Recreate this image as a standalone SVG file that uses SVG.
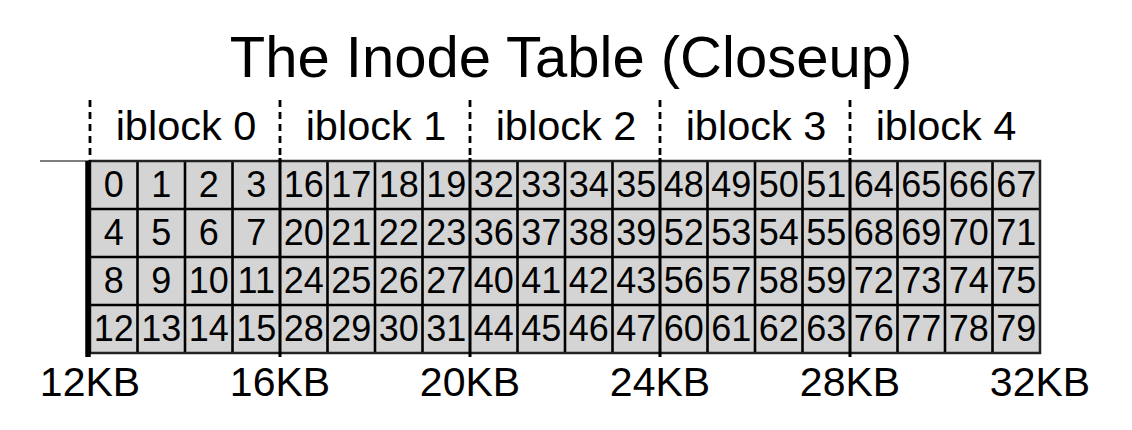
<svg xmlns="http://www.w3.org/2000/svg" width="1132" height="430" viewBox="0 0 1132 430">
  <style>
    text { font-family: "Liberation Sans", Arial, sans-serif; fill: #000; }
    .title { font-size: 58px; text-anchor: middle; }
    .blk { font-size: 41.5px; text-anchor: middle; }
    .kb { font-size: 41px; text-anchor: middle; }
    .num { font-size: 36px; text-anchor: middle; }
    .grid { stroke: #000; stroke-width: 2.6; fill: none; }
    .div { stroke: #000; stroke-width: 3; fill: none; }
    .dash { stroke: #000; stroke-width: 2.8; stroke-dasharray: 7 5; fill: none; }
  </style>

  <text class="title" x="571" y="77">The Inode Table (Closeup)</text>

  <!-- iblock headings -->
  <text class="blk" x="186" y="140">iblock 0</text>
  <text class="blk" x="376" y="140">iblock 1</text>
  <text class="blk" x="566" y="140">iblock 2</text>
  <text class="blk" x="756" y="140">iblock 3</text>
  <text class="blk" x="946" y="140">iblock 4</text>

  <!-- table background (20 columns x 4 rows, 47.5 x 48) -->
  <g id="cells">
    <rect x="90" y="161" width="950" height="192" fill="#d4d4d4"/>
  </g>

  <!-- inode numbers per iblock -->
  <g id="iblock-0">
    <text class="num" x="113.75" y="197">0</text><text class="num" x="161.25" y="197">1</text><text class="num" x="208.75" y="197">2</text><text class="num" x="256.25" y="197">3</text>
    <text class="num" x="113.75" y="245">4</text><text class="num" x="161.25" y="245">5</text><text class="num" x="208.75" y="245">6</text><text class="num" x="256.25" y="245">7</text>
    <text class="num" x="113.75" y="293">8</text><text class="num" x="161.25" y="293">9</text><text class="num" x="208.75" y="293">10</text><text class="num" x="256.25" y="293">11</text>
    <text class="num" x="113.75" y="341">12</text><text class="num" x="161.25" y="341">13</text><text class="num" x="208.75" y="341">14</text><text class="num" x="256.25" y="341">15</text>
  </g>
  <g id="iblock-1">
    <text class="num" x="303.75" y="197">16</text><text class="num" x="351.25" y="197">17</text><text class="num" x="398.75" y="197">18</text><text class="num" x="446.25" y="197">19</text>
    <text class="num" x="303.75" y="245">20</text><text class="num" x="351.25" y="245">21</text><text class="num" x="398.75" y="245">22</text><text class="num" x="446.25" y="245">23</text>
    <text class="num" x="303.75" y="293">24</text><text class="num" x="351.25" y="293">25</text><text class="num" x="398.75" y="293">26</text><text class="num" x="446.25" y="293">27</text>
    <text class="num" x="303.75" y="341">28</text><text class="num" x="351.25" y="341">29</text><text class="num" x="398.75" y="341">30</text><text class="num" x="446.25" y="341">31</text>
  </g>
  <g id="iblock-2">
    <text class="num" x="493.75" y="197">32</text><text class="num" x="541.25" y="197">33</text><text class="num" x="588.75" y="197">34</text><text class="num" x="636.25" y="197">35</text>
    <text class="num" x="493.75" y="245">36</text><text class="num" x="541.25" y="245">37</text><text class="num" x="588.75" y="245">38</text><text class="num" x="636.25" y="245">39</text>
    <text class="num" x="493.75" y="293">40</text><text class="num" x="541.25" y="293">41</text><text class="num" x="588.75" y="293">42</text><text class="num" x="636.25" y="293">43</text>
    <text class="num" x="493.75" y="341">44</text><text class="num" x="541.25" y="341">45</text><text class="num" x="588.75" y="341">46</text><text class="num" x="636.25" y="341">47</text>
  </g>
  <g id="iblock-3">
    <text class="num" x="683.75" y="197">48</text><text class="num" x="731.25" y="197">49</text><text class="num" x="778.75" y="197">50</text><text class="num" x="826.25" y="197">51</text>
    <text class="num" x="683.75" y="245">52</text><text class="num" x="731.25" y="245">53</text><text class="num" x="778.75" y="245">54</text><text class="num" x="826.25" y="245">55</text>
    <text class="num" x="683.75" y="293">56</text><text class="num" x="731.25" y="293">57</text><text class="num" x="778.75" y="293">58</text><text class="num" x="826.25" y="293">59</text>
    <text class="num" x="683.75" y="341">60</text><text class="num" x="731.25" y="341">61</text><text class="num" x="778.75" y="341">62</text><text class="num" x="826.25" y="341">63</text>
  </g>
  <g id="iblock-4">
    <text class="num" x="873.75" y="197">64</text><text class="num" x="921.25" y="197">65</text><text class="num" x="968.75" y="197">66</text><text class="num" x="1016.25" y="197">67</text>
    <text class="num" x="873.75" y="245">68</text><text class="num" x="921.25" y="245">69</text><text class="num" x="968.75" y="245">70</text><text class="num" x="1016.25" y="245">71</text>
    <text class="num" x="873.75" y="293">72</text><text class="num" x="921.25" y="293">73</text><text class="num" x="968.75" y="293">74</text><text class="num" x="1016.25" y="293">75</text>
    <text class="num" x="873.75" y="341">76</text><text class="num" x="921.25" y="341">77</text><text class="num" x="968.75" y="341">78</text><text class="num" x="1016.25" y="341">79</text>
  </g>

  <!-- grid lines -->
  <g id="connectors">
    <path class="grid" d="M90 209H1040M90 257H1040M90 305H1040"/>
    <path class="grid" d="M137.5 161V353M185 161V353M232.5 161V353
                          M327.5 161V353M375 161V353M422.5 161V353
                          M517.5 161V353M565 161V353M612.5 161V353
                          M707.5 161V353M755 161V353M802.5 161V353
                          M897.5 161V353M945 161V353M992.5 161V353"/>
    <rect x="90" y="161" width="950" height="192" fill="none" stroke="#222" stroke-width="2.5"/>
    <!-- iblock boundaries: dashed above, solid through the table -->
    <path class="dash" d="M90 100V161M280 100V161M470 100V161M660 100V161M850 100V161"/>
    <path class="div" d="M280 158V357M470 158V357M660 158V357M850 158V357"/>
    <path d="M88 161V357" stroke="#000" stroke-width="5.5"/>
    <path d="M40 161H90" stroke="#000" stroke-width="1.2"/>
  </g>

  <!-- byte offsets -->
  <text class="kb" x="90" y="396">12KB</text>
  <text class="kb" x="280" y="396">16KB</text>
  <text class="kb" x="470" y="396">20KB</text>
  <text class="kb" x="660" y="396">24KB</text>
  <text class="kb" x="850" y="396">28KB</text>
  <text class="kb" x="1040" y="396">32KB</text>
</svg>
